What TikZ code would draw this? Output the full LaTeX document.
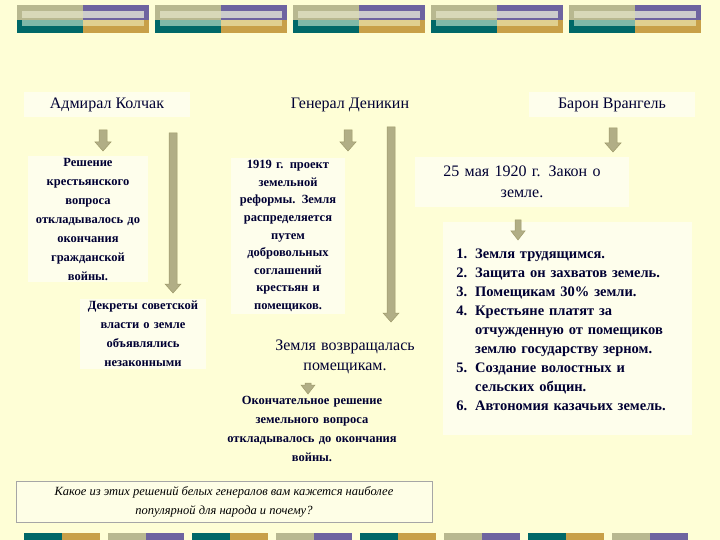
\documentclass[tikz,border=0pt]{standalone}
\usepackage{fontspec}
\setmainfont{Liberation Serif}
\begin{document}
\begin{tikzpicture}[x=1pt,y=-1pt,
  box/.style={fill=white,fill opacity=0.55,text opacity=1,inner sep=2pt,align=center,text=black!80!blue},
  bsmall/.style={box,font=\fontsize{12.5}{19}\selectfont\bfseries},
  arr/.style={draw=black!45!olive!60,fill=olive!35!gray!70,line width=0.5pt},
]
\definecolor{bg}{HTML}{FEFED6}
\definecolor{khaki}{HTML}{B8B890}
\definecolor{lkh}{HTML}{D8D8B8}
\definecolor{teal2}{HTML}{006868}
\definecolor{lteal}{HTML}{7FB8A8}
\definecolor{purp}{HTML}{6E64A0}
\definecolor{gold}{HTML}{C8A048}
\definecolor{lgold}{HTML}{E0D090}
\fill[bg] (0,0) rectangle (720,540);
\useasboundingbox (0,0) rectangle (720,540);
% top banner
\foreach \x in {17,155,293,431,569}{
  \fill[khaki] (\x,5) rectangle ++(66,15);
  \fill[lkh] (\x+5,11) rectangle ++(61,7);
  \fill[teal2] (\x,20) rectangle ++(66,13);
  \fill[lteal] (\x+5,20) rectangle ++(61,6);
  \fill[purp] (\x+66,5) rectangle ++(66,15);
  \fill[gray!40] (\x+66,11) rectangle ++(61,7);
  \fill[gold] (\x+66,20) rectangle ++(66,13);
  \fill[lgold] (\x+66,20) rectangle ++(61,6);
}
% bottom banner
\foreach \k in {0,...,7}{
  \pgfmathsetmacro{\xx}{24+\k*84}
  \pgfmathtruncatemacro{\odd}{mod(\k,2)}
  \ifnum\odd=0
    \fill[teal2] (\xx,533) rectangle ++(38,7);
    \fill[gold] (\xx+38,533) rectangle ++(38,7);
  \else
    \fill[khaki] (\xx,533) rectangle ++(38,7);
    \fill[purp] (\xx+38,533) rectangle ++(38,7);
  \fi
}
% titles
\node[box,minimum width=166pt,minimum height=25pt,font=\fontsize{16}{18}\selectfont] (kol) at (107,105) {Адмирал Колчак};
\node[box,fill opacity=0,minimum height=25pt,font=\fontsize{16}{18}\selectfont] (den) at (350,105) {Генерал Деникин};
\node[box,minimum width=166pt,minimum height=25pt,font=\fontsize{16}{18}\selectfont] (wra) at (612,105) {Барон Врангель};
% Kolchak
\node[bsmall,text width=116pt,minimum height=118pt] (k1) at (88,219) {Решение\\ крестьянского\\ вопроса\\ откладывалось до\\ окончания\\ гражданской\\ войны.};
\node[bsmall,text width=122pt,minimum height=68pt] (k2) at (143,334) {Декреты советской\\ власти о земле\\ объявлялись\\ незаконными};
% Denikin
\node[bsmall,text width=110pt,minimum height=150pt,font=\fontsize{12.5}{17.6}\selectfont\bfseries] (d1) at (288,236) {1919 г. проект\\ земельной\\ реформы. Земля\\ распределяется\\ путем\\ добровольных\\ соглашений\\ крестьян и\\ помещиков.};
\node[box,fill opacity=0,text width=180pt,font=\fontsize{16}{20}\selectfont] (d2) at (345,357) {Земля возвращалась\\ помещикам.};
\node[box,fill opacity=0,text width=200pt,font=\fontsize{12.5}{19}\selectfont\bfseries] (d3) at (312,429) {Окончательное решение\\ земельного вопроса\\ откладывалось до окончания\\ войны.};
% Wrangel
\node[box,text width=210pt,minimum height=50pt,font=\fontsize{16}{21}\selectfont] (w1) at (522,182) {25 мая 1920 г. Закон о\\ земле.};
\node[box,anchor=north west,text width=245pt,minimum height=213pt,align=left,font=\fontsize{14.5}{19}\selectfont\bfseries] (w2) at (443,222) {%
\begin{minipage}[t]{245pt}\vspace{2pt}\raggedright
\begin{list}{}{\leftmargin=30pt\labelwidth=22pt\labelsep=8pt\itemsep=0pt\parsep=0pt\topsep=0pt}
\item[1.] Земля трудящимся.
\item[2.] Защита он захватов земель.
\item[3.] Помещикам 30\% земли.
\item[4.] Крестьяне платят за\\ отчужденную от помещиков\\ землю государству зерном.
\item[5.] Создание волостных и\\ сельских общин.
\item[6.] Автономия казачьих земель.
\end{list}\end{minipage}};
% question
\node[draw=gray!70,fill=white,fill opacity=0.4,text opacity=1,minimum width=416pt,minimum height=41pt,align=center,font=\fontsize{12.5}{19}\selectfont\itshape] (q) at (224,502) {Какое из этих решений белых генералов вам кажется наиболее\\ популярной для народа и почему?};
% arrows
\newcommand{\varrow}[4]{% x, y1, y2, halfwidth
  \filldraw[arr] (#1-#4,#2) -- (#1+#4,#2) -- (#1+#4,#3-9) -- (#1+#4+4,#3-9) -- (#1,#3) -- (#1-#4-4,#3-9) -- (#1-#4,#3-9) -- cycle;}
\coordinate (a1) at (103,130); \varrow{103}{130}{151}{4}
\coordinate (a2) at (173,133); \varrow{173}{133}{293}{4}
\coordinate (a3) at (348,130); \varrow{348}{130}{151}{4}
\coordinate (a4) at (391,127); \varrow{391}{127}{322}{4}
\coordinate (a5) at (308,382); \varrow{308}{383}{394}{3}
\coordinate (a6) at (613,128); \varrow{613}{128}{152}{4}
\coordinate (a7) at (518,220); \varrow{518}{220}{240}{3}
\end{tikzpicture}
\end{document}
